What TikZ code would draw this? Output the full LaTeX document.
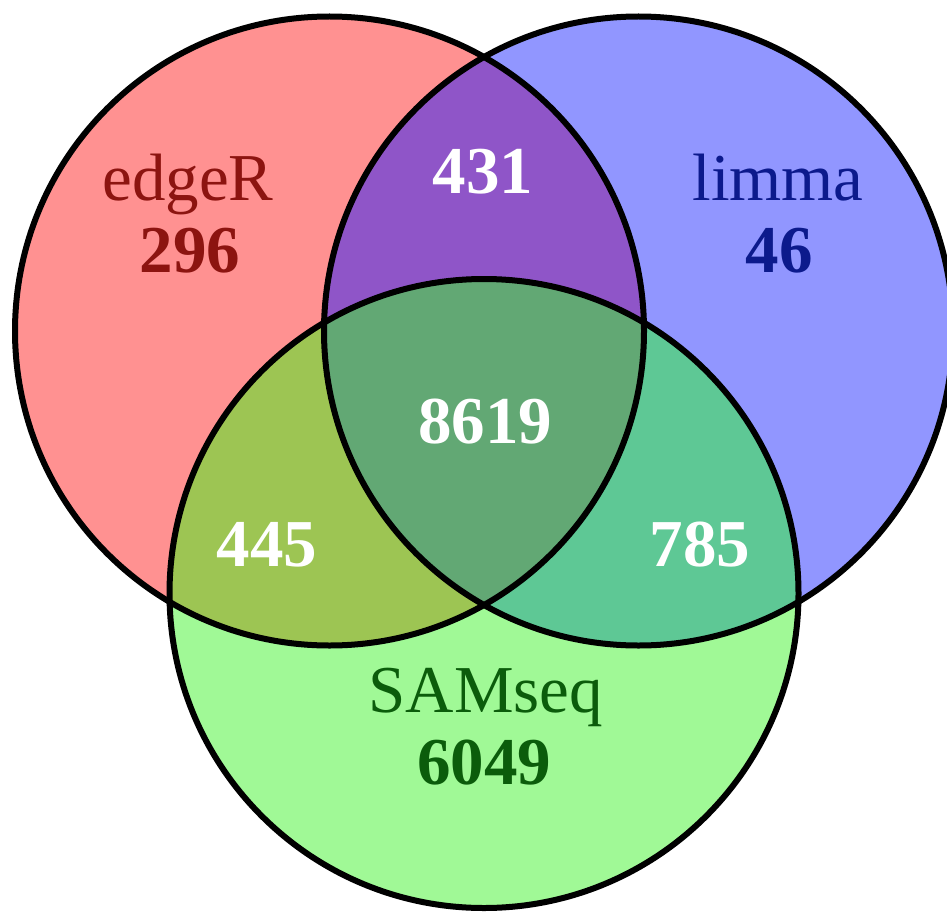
\documentclass[tikz,border=0pt]{standalone}
\usepackage{fontspec}
\setmainfont{Liberation Serif}
\definecolor{setR}{HTML}{FF9191}
\definecolor{setL}{HTML}{9196FF}
\definecolor{setS}{HTML}{A0F996}
\definecolor{setRL}{HTML}{8F55C8}
\definecolor{setRS}{HTML}{9DC553}
\definecolor{setLS}{HTML}{5EC895}
\definecolor{setAll}{HTML}{62A874}
\definecolor{txtR}{HTML}{8C1410}
\definecolor{txtL}{HTML}{0C1A8C}
\definecolor{txtS}{HTML}{0B5C0B}
\tikzset{
  setname/.style={anchor=base, font=\fontsize{67}{72}\selectfont},
  count/.style={anchor=base, font=\fontsize{67}{72}\selectfont\bfseries},
  ring/.style={draw=black, line width=6pt}
}
\begin{document}
\begin{tikzpicture}[x=1pt,y=-1pt]
\useasboundingbox (0,0) rectangle (947,915);
\def\rad{314.5}
\coordinate (cR) at (329.5,331);
\coordinate (cL) at (638.5,331);
\coordinate (cS) at (484,593.5);
% single-set fills
\fill[setR] (cR) circle[radius=\rad];
\fill[setL] (cL) circle[radius=\rad];
\fill[setS] (cS) circle[radius=\rad];
% pairwise overlaps
\begin{scope}
  \clip (cR) circle[radius=\rad];
  \fill[setRL] (cL) circle[radius=\rad];
  \fill[setRS] (cS) circle[radius=\rad];
\end{scope}
\begin{scope}
  \clip (cL) circle[radius=\rad];
  \fill[setLS] (cS) circle[radius=\rad];
\end{scope}
% triple overlap
\begin{scope}
  \clip (cR) circle[radius=\rad];
  \clip (cL) circle[radius=\rad];
  \fill[setAll] (cS) circle[radius=\rad];
\end{scope}
% outlines
\draw[ring] (cR) circle[radius=\rad];
\draw[ring] (cL) circle[radius=\rad];
\draw[ring] (cS) circle[radius=\rad];
% labels
\node[setname, text=txtR] (nR) at (188,200) {edgeR};
\node[count, text=txtR] (kR) at (190,272) {296};
\node[setname, text=txtL] (nL) at (778,200) {limma};
\node[count, text=txtL] (kL) at (779,272) {46};
\node[setname, text=txtS] (nS) at (486,712) {SAMseq};
\node[count, text=txtS] (kS) at (484,784) {6049};
\node[count, text=white] (kRL) at (483,193) {431};
\node[count, text=white] (kAll) at (485,443) {8619};
\node[count, text=white] (kRS) at (267,566) {445};
\node[count, text=white] (kLS) at (700,566) {785};
\end{tikzpicture}
\end{document}
